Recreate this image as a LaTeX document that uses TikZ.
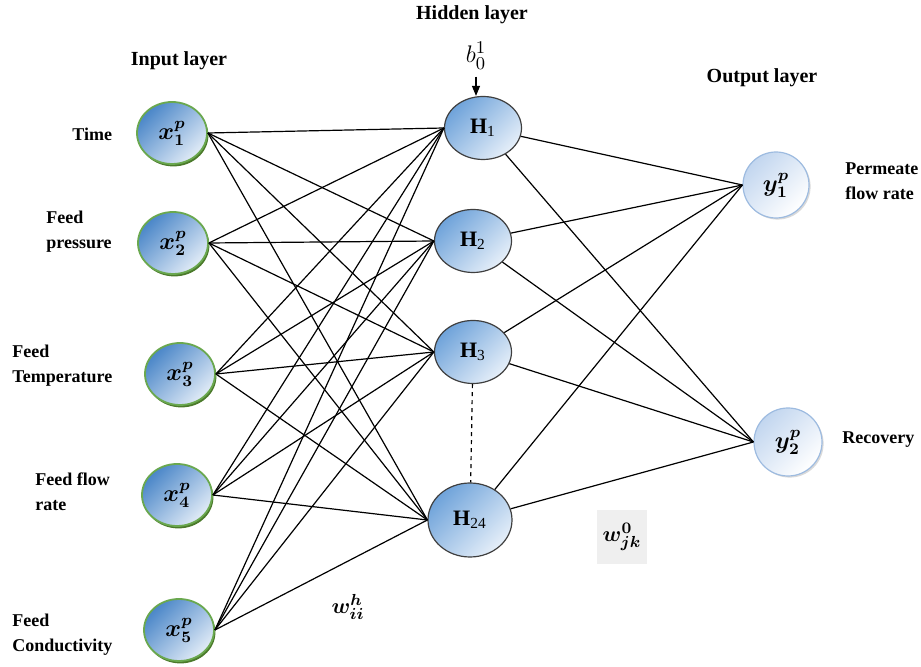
\documentclass[tikz,border=0pt]{standalone}
\usepackage{amsmath,amssymb}
\usepackage{fontspec}
\setmainfont{Liberation Serif}
\usetikzlibrary{shapes.geometric,shadows,arrows.meta}

\definecolor{indark}{HTML}{4A86C8}
\definecolor{inlight}{HTML}{E2ECF7}
\definecolor{ingreen}{HTML}{6AA84F}
\definecolor{inshadow}{HTML}{4B7A2B}
\definecolor{hiddark}{HTML}{6FA3DA}
\definecolor{hidlight}{HTML}{E6EFF9}
\definecolor{hidedge}{HTML}{3F3F3F}
\definecolor{outdark}{HTML}{C2D6EF}
\definecolor{outedge}{HTML}{9DBBE0}
\definecolor{wbox}{HTML}{EFEFEF}

\begin{document}
\begin{tikzpicture}[
				x=0.5pt, y=-0.5pt,
				link/.style = {line width=0.6pt},
				inp/.style = {ellipse, draw=ingreen, line width=0.9pt,
					top color=indark, bottom color=inlight, shading angle=45,
					minimum width=35pt, minimum height=31pt, inner sep=0pt,
					drop shadow={fill=inshadow, opacity=1, shadow xshift=0.7pt, shadow yshift=-1.2pt},
					font=\fontsize{11.5}{11.5}\selectfont\boldmath},
				hid/.style = {ellipse, draw=hidedge, line width=0.6pt,
					top color=hiddark, bottom color=hidlight, shading angle=45,
					minimum width=38.5pt, minimum height=31.5pt, inner sep=0pt,
					font=\fontsize{11}{11}\selectfont},
				outp/.style = {circle, draw=outedge, line width=0.6pt,
					top color=outdark, bottom color=white, shading angle=45,
					minimum size=33pt, inner sep=0pt,
					drop shadow={fill=black, opacity=0.15, shadow xshift=0.8pt, shadow yshift=-0.8pt},
					font=\fontsize{11.5}{11.5}\selectfont\boldmath},
				title/.style = {font=\fontsize{10}{12}\selectfont\bfseries},
				side/.style = {anchor=west, align=left, inner sep=0pt,
					font=\fontsize{9}{12.5}\selectfont\bfseries},
				weight/.style = {font=\fontsize{11}{11}\selectfont\boldmath}
			]
			\useasboundingbox (0,0) rectangle (921,667);

			% layer titles
			\node[title] (tin) at (179,61) {Input layer};
			\node[title] (thid) at (472,15) {Hidden layer};
			\node[title] (tout) at (762,78) {Output layer};

			% input layer
			\node[inp] (x1) at (172,133) {$x^{p}_{1}$};
			\node[inp] (x2) at (173,243) {$x^{p}_{2}$};
			\node[inp] (x3) at (180,374) {$x^{p}_{3}$};
			\node[inp] (x4) at (177,495) {$x^{p}_{4}$};
			\node[inp] (x5) at (179,630) {$x^{p}_{5}$};
			\node[side] (time) at (72,134) {Time};
			\node[side] (press) at (46,232) {Feed\\pressure};
			\node[side] (temp) at (12,366) {Feed\\Temperature};
			\node[side] (flow) at (35,492) {Feed flow\\rate};
			\node[side] (cond) at (12,635) {Feed\\Conductivity};

			% hidden layer
			\node[hid] (H1) at (483,128) {\textbf{H}\textsubscript{1}};
			\node[hid] (H2) at (473,241) {\textbf{H}\textsubscript{2}};
			\node[hid] (H3) at (473,352) {\textbf{H}\textsubscript{3}};
			\node[hid, minimum width=42pt, minimum height=37pt] (H24) at (470,520) {\textbf{H}\textsubscript{24}};
			\node[font=\fontsize{13}{13}\selectfont] (b01) at (476,56) {$b_{0}^{1}$};
			\draw[link, -{Triangle[length=5pt,width=4pt]}] (b01.south) -- (b01.south |- H1.north);
			\draw[link, dash pattern=on 2pt off 2pt] (H3) -- (H24);

			% output layer
			\node[outp] (y1) at (776,185) {$y^{p}_{1}$};
			\node[outp, minimum size=34pt] (y2) at (788,442) {$y^{p}_{2}$};
			\node[side] (perm) at (845,181) {Permeate\\flow rate};
			\node[side] (recov) at (842,440) {Recovery};

			% weights
			\node[weight] (wh) at (348,607) {$w^{h}_{ii}$};
			\node[weight, fill=wbox, minimum width=25pt, minimum height=27pt, inner sep=0pt] (wo) at (622,537) {$w^{0}_{jk}$};

			% input to hidden
			\draw[link] (x1.east) to (H1.west);
			\draw[link] (x1.east) to (H2.west);
			\draw[link] (x1.east) to (H3.west);
			\draw[link] (x1.east) to (H24.west);
			\draw[link] (x2.east) to (H1.west);
			\draw[link] (x2.east) to (H2.west);
			\draw[link] (x2.east) to (H3.west);
			\draw[link] (x2.east) to (H24.west);
			\draw[link] (x3.east) to (H1.west);
			\draw[link] (x3.east) to (H2.west);
			\draw[link] (x3.east) to (H3.west);
			\draw[link] (x3.east) to (H24.west);
			\draw[link] (x4.east) to (H1.west);
			\draw[link] (x4.east) to (H2.west);
			\draw[link] (x4.east) to (H3.west);
			\draw[link] (x4.east) to (H24.west);
			\draw[link] (x5.east) to (H1.west);
			\draw[link] (x5.east) to (H2.west);
			\draw[link] (x5.east) to (H3.west);
			\draw[link] (x5.east) to (H24.west);

			% hidden to output
			\draw[link] (H1) to (y1.west);
			\draw[link] (H1) to (y2.west);
			\draw[link] (H2) to (y1.west);
			\draw[link] (H2) to (y2.west);
			\draw[link] (H3) to (y1.west);
			\draw[link] (H3) to (y2.west);
			\draw[link] (H24) to (y1.west);
			\draw[link] (H24) to (y2.west);
		\end{tikzpicture}
\end{document}
